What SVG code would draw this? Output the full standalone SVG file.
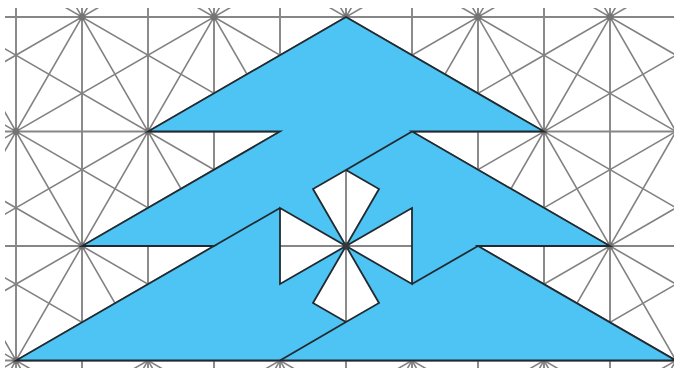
<svg xmlns="http://www.w3.org/2000/svg" width="674" height="370" viewBox="0 0 674 370">
<defs>
<style>
.grid{fill:none;stroke:#868686;stroke-width:1.9}
.diag{fill:none;stroke:#828282;stroke-width:1.6}
.blue{fill:#4dc4f4;stroke:none}
.wedge{fill:#fff;stroke:none}
.edge{fill:none;stroke:#222a30;stroke-width:1.8;stroke-linejoin:miter}
.dot{fill:#747474}
.hub{fill:#30383c}
</style>
<clipPath id="frame"><rect x="5" y="8" width="669" height="360"/></clipPath>
</defs>
<rect width="674" height="370" fill="#fff"/>
<g id="lattice" clip-path="url(#frame)">
<path class="grid" d="M16 0V370M82 0V370M148 0V370M214 0V370M280 0V370M346 0V370M412 0V370M478 0V370M544 0V370M610 0V370M0 17H674M0 131.5H674M0 246H674M0 360.5H674"/>
<path class="diag" d="M-248 -97.5L82 475M-116 -97.5L214 475M16 -97.5L346 475M148 -97.5L478 475M280 -97.5L610 475M412 -97.5L742 475M544 -97.5L874 475M148 -97.5L-182 475M280 -97.5L-50 475M412 -97.5L82 475M544 -97.5L214 475M676 -97.5L346 475M808 -97.5L478 475M940 -97.5L610 475"/>
<path class="diag" d="M-776 -97.5L214 475M-644 -97.5L346 475M-512 -97.5L478 475M-380 -97.5L610 475M-248 -97.5L742 475M-116 -97.5L874 475M16 -97.5L1006 475M148 -97.5L1138 475M280 -97.5L1270 475M412 -97.5L1402 475M280 -97.5L-710 475M412 -97.5L-578 475M544 -97.5L-446 475M676 -97.5L-314 475M808 -97.5L-182 475M940 -97.5L-50 475M1072 -97.5L82 475M1204 -97.5L214 475M1336 -97.5L346 475M1468 -97.5L478 475"/>
<circle class="dot" cx="82" cy="17" r="3.5"/><circle class="dot" cx="214" cy="17" r="3.5"/><circle class="dot" cx="346" cy="17" r="3.5"/><circle class="dot" cx="478" cy="17" r="3.5"/><circle class="dot" cx="610" cy="17" r="3.5"/>
<circle class="dot" cx="16" cy="131.5" r="3.5"/><circle class="dot" cx="148" cy="131.5" r="3.5"/><circle class="dot" cx="544" cy="131.5" r="3.5"/>
<circle class="dot" cx="82" cy="246" r="3.5"/><circle class="dot" cx="610" cy="246" r="3.5"/>
<circle class="dot" cx="16" cy="360.5" r="3.5"/>
</g>
<g id="tile" clip-path="url(#frame)">
<polygon class="blue" points="346,17 544,131.5 412,131.5 610,246 478,246 676,360.5 16,360.5 214,246 82,246 280,131.5 148,131.5"/>
<polygon class="wedge" points="346,246 313,189 346,170 379,189"/>
<polygon class="wedge" points="346,246 412,208 412,284"/>
<polygon class="wedge" points="346,246 379,303 346,322 313,303"/>
<polygon class="wedge" points="346,246 280,284 280,208"/>
<path class="grid" d="M346 170V322M280 246H412"/>
</g>
<g id="outline" clip-path="url(#frame)">
<polygon class="edge" points="346,17 544,131.5 412,131.5 610,246 478,246 676,360.5 16,360.5 214,246 82,246 280,131.5 148,131.5"/>
<path class="edge" d="M412 131.5L346 170L379 189L346 246L412 208V284L346 246L379 303L346 322L313 303L346 246L280 284V208L346 246L313 189L346 170M214 246L280 208M412 284L478 246M280 360.5L346 322"/>
<circle class="hub" cx="346" cy="246" r="3.5"/>
</g>
</svg>
